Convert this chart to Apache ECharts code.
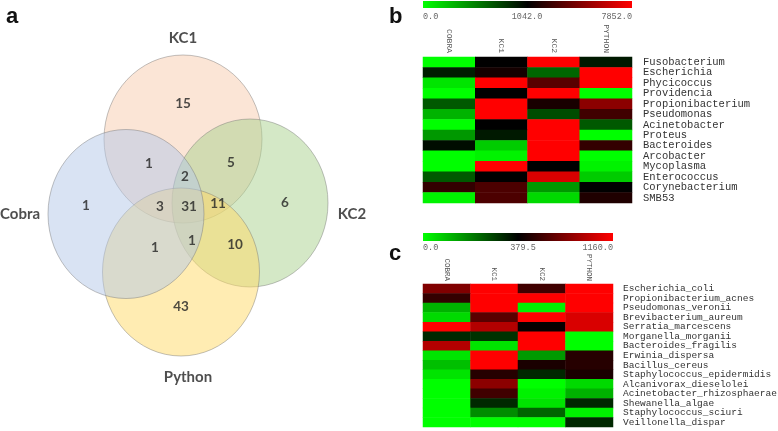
<!DOCTYPE html>
<html><head><meta charset="utf-8">
<script src="https://cdn.jsdelivr.net/npm/echarts@6/dist/echarts.min.js"></script>
<style>html,body{margin:0;padding:0;background:#fff}#c{width:778px;height:431px}</style>
</head><body><div id="c"></div>
<script>
// ---------- Data ----------
const vennSets = ['Cobra', 'KC1', 'KC2', 'Python'];
const vennRegions = ['KC1', 'Cobra∩KC1', 'KC1∩KC2', 'Cobra∩KC1∩KC2', 'Cobra', 'Cobra∩KC1∩Python',
  'Cobra∩KC1∩KC2∩Python', 'KC1∩KC2∩Python', 'KC2', 'Cobra∩KC2∩Python', 'KC2∩Python', 'Cobra∩Python', 'Python'];
const vennCounts = [15, 1, 5, 2, 1, 3, 31, 11, 6, 1, 10, 1, 43];

const sampleCols = ['COBRA', 'KC1', 'KC2', 'PYTHON'];

const genusRows = ['Fusobacterium', 'Escherichia', 'Phycicoccus', 'Providencia', 'Propionibacterium',
  'Pseudomonas', 'Acinetobacter', 'Proteus', 'Bacteroides', 'Arcobacter', 'Mycoplasma',
  'Enterococcus', 'Corynebacterium', 'SMB53'];
const genusScale = [0.0, 1042.0, 7852.0];
const genusValues = [ // COBRA, KC1, KC2, PYTHON
  [0, 1060, 9000, 940],
  [920, 1590, 625, 9500],
  [105, 8200, 3430, 8800],
  [0, 1042, 8000, 0],
  [680, 8500, 1720, 4790],
  [310, 8100, 730, 2750],
  [0, 1045, 12000, 680],
  [420, 940, 9000, 0],
  [990, 210, 8500, 2400],
  [0, 50, 8000, 0],
  [0, 8000, 1042, 50],
  [680, 1042, 6830, 210],
  [2400, 3080, 420, 1042],
  [50, 3080, 155, 1860]
];

const speciesRows = ['Escherichia_coli', 'Propionibacterium_acnes', 'Pseudomonas_veronii',
  'Brevibacterium_aureum', 'Serratia_marcescens', 'Morganella_morganii', 'Bacteroides_fragilis',
  'Erwinia_dispersa', 'Bacillus_cereus', 'Staphylococcus_epidermidis', 'Alcanivorax_dieselolei',
  'Acinetobacter_rhizosphaerae', 'Shewanella_algae', 'Staphylococcus_sciuri', 'Veillonella_dispar'];
const speciesScale = [0.0, 379.5, 1160.0];
const speciesValues = [
  [770, 1200, 575, 1300],
  [535, 1250, 1180, 1400],
  [115, 1200, 20, 1250],
  [55, 653, 1170, 1043],
  [1165, 926, 400, 1043],
  [320, 305, 1200, 0],
  [926, 40, 1170, 0],
  [40, 1200, 150, 497],
  [95, 1180, 458, 497],
  [40, 497, 320, 458],
  [0, 809, 0, 55],
  [0, 575, 20, 115],
  [0, 320, 40, 320],
  [0, 170, 230, 20],
  [0, 0, 0, 320]
];

// ---------- Layout (positions / styles) ----------
const vennShapes = [ // cx, cy, rx, ry (pixel-like coordinates of the venn grid), same order as vennSets
  [126, 214, 78, 84.5],
  [183, 139, 79, 84],
  [250, 203, 78, 84],
  [181, 272, 78.5, 84]
];
const vennDrawOrder = [1, 2, 3, 0]; // KC1, KC2, Python, Cobra (Cobra on top)
const vennFill = ['rgba(180,199,231,0.5)', 'rgba(248,203,173,0.5)', 'rgba(169,209,142,0.5)', 'rgba(255,217,102,0.5)'];
const vennSetLabelPos = [[20, 214], [183, 38], [352, 214], [188, 377]];
const vennCountPos = [[183, 104], [149, 164], [231, 163], [185, 177], [86, 206], [160, 207],
  [189, 207], [218, 204], [285, 203], [192, 241], [235, 245], [155, 248], [181, 307]];

function toPos(v, sc) {
  const mid = sc[1], max = sc[2];
  if (v <= mid) return 0.5 * Math.max(0, v) / mid;
  return Math.min(1, 0.5 + 0.5 * (v - mid) / (max - mid));
}
function heatData(vals, sc) {
  const out = [];
  vals.forEach((row, r) => row.forEach((v, c) => out.push([c, r, toPos(v, sc)])));
  return out;
}
const mono = '"Liberation Mono", "DejaVu Sans Mono", monospace';
const rampStops = [{offset: 0, color: '#00ff00'}, {offset: 0.5, color: '#000000'}, {offset: 1, color: '#ff0000'}];

const chart = echarts.init(document.getElementById('c'), null, {renderer: 'canvas'});

function heatX(gi, fs, margin) {
  return {type: 'category', gridIndex: gi, data: sampleCols, position: 'top',
    axisLine: {show: false}, axisTick: {show: false}, splitLine: {show: false},
    axisLabel: {rotate: 90, fontSize: fs, fontFamily: mono, color: '#555', margin: margin, interval: 0}};
}
function heatY(gi, rows, fs, margin) {
  return {type: 'category', gridIndex: gi, data: rows, position: 'right', inverse: true,
    axisLine: {show: false}, axisTick: {show: false}, splitLine: {show: false},
    axisLabel: {fontSize: fs, fontFamily: mono, color: '#333', margin: margin, interval: 0, align: 'left'}};
}
function scaleBar(x, y, w, h, sc, ly, midX) {
  const fmt = v => v.toFixed(1);
  const ts = {fontSize: 8.5, fontFamily: mono, fill: '#666'};
  return [
    {type: 'rect', shape: {x: x, y: y, width: w, height: h}, style: {fill: new echarts.graphic.LinearGradient(0, 0, 1, 0, rampStops)}},
    {type: 'text', x: x, y: ly, style: Object.assign({text: fmt(sc[0]), textAlign: 'left', textVerticalAlign: 'middle'}, ts)},
    {type: 'text', x: midX, y: ly, style: Object.assign({text: fmt(sc[1]), textAlign: 'center', textVerticalAlign: 'middle'}, ts)},
    {type: 'text', x: x + w, y: ly, style: Object.assign({text: fmt(sc[2]), textAlign: 'right', textVerticalAlign: 'middle'}, ts)}
  ];
}
const letterStyle = {fontSize: 22, fontWeight: 'bold', fontFamily: '"Liberation Sans", Arial, sans-serif', fill: '#111'};

const option = {
  animation: false,
  backgroundColor: '#fff',
  grid: [
    {left: 0, top: 0, width: 400, height: 431, outerBoundsMode: 'none'},
    {left: 423, top: 57, width: 209, height: 146, outerBoundsMode: 'none'},
    {left: 423, top: 284, width: 190, height: 143, outerBoundsMode: 'none'}
  ],
  xAxis: [
    {type: 'value', gridIndex: 0, min: 0, max: 400, show: false},
    heatX(1, 8, 4),
    heatX(2, 7.5, 3)
  ],
  yAxis: [
    {type: 'value', gridIndex: 0, min: 0, max: 431, inverse: true, show: false},
    heatY(1, genusRows, 10.5, 11),
    heatY(2, speciesRows, 9.5, 10)
  ],
  visualMap: [
    {show: false, type: 'continuous', seriesIndex: 3, dimension: 2, min: 0, max: 1, inRange: {color: ['#00ff00', '#000000', '#ff0000']}},
    {show: false, type: 'continuous', seriesIndex: 4, dimension: 2, min: 0, max: 1, inRange: {color: ['#00ff00', '#000000', '#ff0000']}}
  ],
  series: [
    {
      type: 'custom', xAxisIndex: 0, yAxisIndex: 0, silent: true,
      data: vennDrawOrder.map(i => [vennShapes[i][0], vennShapes[i][1], vennShapes[i][2], vennShapes[i][3], i]),
      renderItem: function (params, api) {
        const c = api.coord([api.value(0), api.value(1)]);
        const sz = api.size([api.value(2), api.value(3)]);
        const i = api.value(4);
        return {type: 'ellipse', shape: {cx: c[0], cy: c[1], rx: sz[0], ry: sz[1]},
          style: {fill: vennFill[i], stroke: 'rgba(120,120,120,0.45)', lineWidth: 1}};
      }
    },
    {
      type: 'scatter', xAxisIndex: 0, yAxisIndex: 0, silent: true, symbolSize: 1,
      itemStyle: {color: 'rgba(0,0,0,0)'},
      data: vennSets.map((n, i) => ({value: [vennSetLabelPos[i][0], vennSetLabelPos[i][1]], name: n})),
      label: {show: true, position: 'inside', formatter: p => p.name, fontSize: 15, fontWeight: 'bold',
        fontFamily: 'Lato, "Open Sans", sans-serif', color: '#222'}
    },
    {
      type: 'scatter', xAxisIndex: 0, yAxisIndex: 0, silent: true, symbolSize: 1,
      itemStyle: {color: 'rgba(0,0,0,0)'},
      data: vennCounts.map((n, i) => ({value: [vennCountPos[i][0], vennCountPos[i][1], n], name: vennRegions[i]})),
      label: {show: true, position: 'inside', formatter: p => String(p.value[2]), fontSize: 13.5, fontWeight: 'bold',
        fontFamily: 'Lato, "Open Sans", sans-serif', color: '#222'}
    },
    {
      type: 'heatmap', xAxisIndex: 1, yAxisIndex: 1, silent: true,
      data: heatData(genusValues, genusScale), itemStyle: {borderWidth: 0}, emphasis: {disabled: true}
    },
    {
      type: 'heatmap', xAxisIndex: 2, yAxisIndex: 2, silent: true,
      data: heatData(speciesValues, speciesScale), itemStyle: {borderWidth: 0}, emphasis: {disabled: true}
    }
  ],
  graphic: [].concat(
    scaleBar(423, 1, 209, 7, genusScale, 17, 527),
    scaleBar(423, 233, 190, 8, speciesScale, 248, 523),
    [
      {type: 'text', x: 6, y: 6, style: Object.assign({text: 'a'}, letterStyle)},
      {type: 'text', x: 389, y: 6, style: Object.assign({text: 'b'}, letterStyle)},
      {type: 'text', x: 389, y: 243, style: Object.assign({text: 'c'}, letterStyle)}
    ]
  )
};
chart.setOption(option);
</script>
</body></html>
